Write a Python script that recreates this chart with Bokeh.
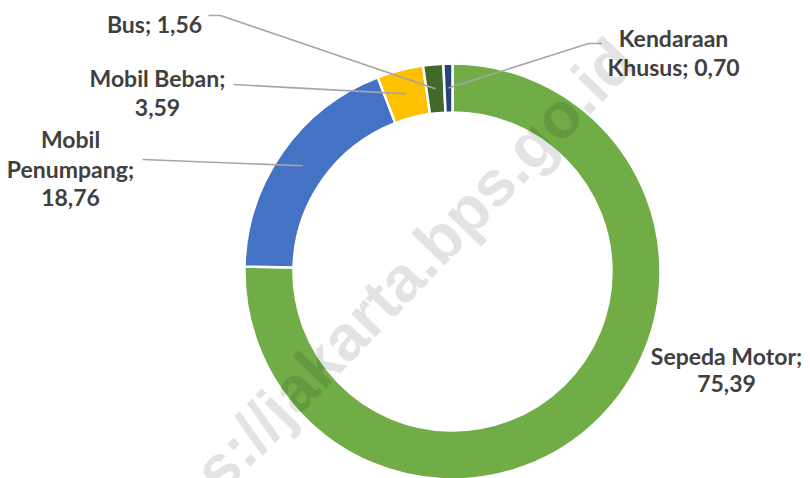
import numpy as np
from bokeh.plotting import figure
from bokeh.models import Range1d, ColumnDataSource
from bokeh.core.properties import value
from bokeh.embed import file_html
from bokeh.resources import INLINE

# ---------------- data ----------------
categories = ["Sepeda Motor", "Mobil Penumpang", "Mobil Beban", "Bus", "Kendaraan Khusus"]
values = [75.39, 18.76, 3.59, 1.56, 0.70]
colors = ["#70AD47", "#4472C4", "#FFC000", "#43682B", "#264478"]
label_lines = [
    ["Sepeda Motor;", "75,39"],
    ["Mobil", "Penumpang;", "18,76"],
    ["Mobil Beban;", "3,59"],
    ["Bus; 1,56"],
    ["Kendaraan", "Khusus; 0,70"],
]
watermark = "https://jakarta.bps.go.id"

# ---------------- layout (pixels of the photographed picture) ----------------
FW, FH = 810, 478
def Y(sy):
    return FH - sy

cx, cy = 452, 271
r_out, r_in = 208, 159
r_mid = (r_out + r_in) / 2

# label block: centre x, baselines
label_layout = [
    (726, [355, 383]),
    (70, [138, 168, 197]),
    (157, [77, 107]),
    (154, [23]),
    (673, [37, 66]),
]
# leader starting points (outer side), empty = no leader
leader_start = [
    [],
    [(142, 159)],
    [(233, 84)],
    [(208, 15), (220, 15)],
    [(601, 43), (588, 43)],
]

p = figure(width=FW, height=FH, output_backend="svg", toolbar_location=None,
           x_range=Range1d(0, FW), y_range=Range1d(0, FH),
           min_border=0, min_border_left=0, min_border_right=0,
           min_border_top=0, min_border_bottom=0)
p.axis.visible = False
p.grid.visible = False
p.outline_line_color = None
p.background_fill_color = "white"
p.border_fill_color = "white"

vals = np.array(values)
frac = vals / vals.sum()
cum_end = np.cumsum(frac)
cum_start = cum_end - frac
start_ang = np.pi / 2 - cum_start * 2 * np.pi
end_ang = np.pi / 2 - cum_end * 2 * np.pi

src = ColumnDataSource(dict(start=start_ang, end=end_ang, color=colors, cat=categories))
p.annular_wedge(x=cx, y=Y(cy), inner_radius=r_in, outer_radius=r_out,
                start_angle="start", end_angle="end", direction="clock",
                fill_color="color", line_color="white", line_width=2.5, source=src)

# leader lines
mid_ang = (start_ang + end_ang) / 2
for i, pts in enumerate(leader_start):
    if not pts:
        continue
    ex = cx + r_mid * np.cos(mid_ang[i])
    ey = Y(cy) + r_mid * np.sin(mid_ang[i])
    xs = [q[0] for q in pts] + [ex]
    ys = [Y(q[1]) for q in pts] + [ey]
    p.line(xs, ys, line_color="#A6A6A6", line_width=1.6)

# labels
tx, ty, tt = [], [], []
for (lx, bases), lines in zip(label_layout, label_lines):
    for b, t in zip(bases, lines):
        tx.append(lx)
        ty.append(Y(b))
        tt.append(t)
p.text(x=tx, y=ty, text=tt, text_align="center", text_baseline="alphabetic",
       text_font=value("Lato"), text_font_style="bold", text_font_size="23px",
       text_color="#404040")

# watermark
p.text(x=[372], y=[Y(308)], text=[watermark], angle=np.deg2rad(46),
       text_align="center", text_baseline="middle",
       text_font=value("Liberation Sans"), text_font_style="bold",
       text_font_size="64px", text_color="#000000", text_alpha=0.11)

open("out.html", "w").write(file_html(p, INLINE))
